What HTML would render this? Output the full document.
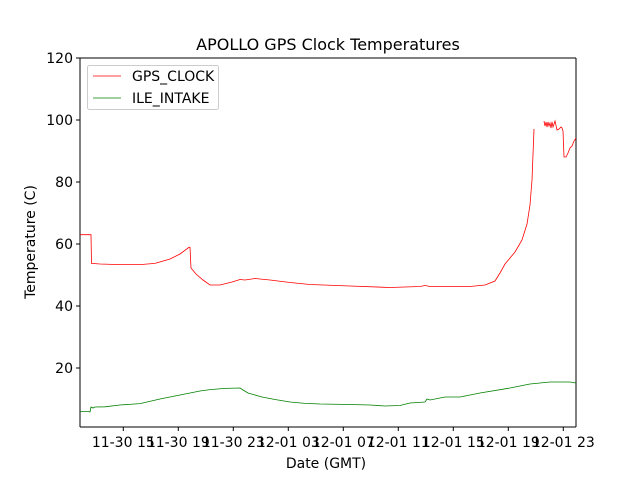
<!DOCTYPE html>
<html><head><meta charset="utf-8"><style>
body{margin:0;background:#fff}
svg text{font-family:"DejaVu Sans","Liberation Sans",sans-serif;fill:#000}
</style></head><body>
<svg width="640" height="480" viewBox="0 0 640 480" xmlns="http://www.w3.org/2000/svg">
<rect width="640" height="480" fill="#fff"/>
<text x="328" y="50" font-size="16" text-anchor="middle">APOLLO GPS Clock Temperatures</text>
<g stroke="#000" stroke-width="1">
<line x1="80" y1="58" x2="80" y2="427"/>
<line x1="576" y1="58" x2="576" y2="427"/>
<line x1="80" y1="58" x2="576" y2="58"/>
<line x1="80" y1="427" x2="576" y2="427"/>
<line x1="76" y1="58" x2="80" y2="58"/>
<line x1="76" y1="120" x2="80" y2="120"/>
<line x1="76" y1="182" x2="80" y2="182"/>
<line x1="76" y1="244" x2="80" y2="244"/>
<line x1="76" y1="306" x2="80" y2="306"/>
<line x1="76" y1="368" x2="80" y2="368"/>
<line x1="123.3" y1="427" x2="123.3" y2="431"/>
<line x1="178.3" y1="427" x2="178.3" y2="431"/>
<line x1="233.3" y1="427" x2="233.3" y2="431"/>
<line x1="288.3" y1="427" x2="288.3" y2="431"/>
<line x1="343.3" y1="427" x2="343.3" y2="431"/>
<line x1="398.3" y1="427" x2="398.3" y2="431"/>
<line x1="453.3" y1="427" x2="453.3" y2="431"/>
<line x1="508.3" y1="427" x2="508.3" y2="431"/>
<line x1="563.3" y1="427" x2="563.3" y2="431"/>
</g>
<g font-size="14" text-anchor="end">
<text x="73" y="63">120</text><text x="73" y="125">100</text><text x="73" y="187">80</text>
<text x="73" y="249">60</text><text x="73" y="311">40</text><text x="73" y="373">20</text>
</g>
<g font-size="14" text-anchor="middle">
<text x="123.3" y="447">11-30 15</text><text x="178.3" y="447">11-30 19</text>
<text x="233.3" y="447">11-30 23</text><text x="288.3" y="447">12-01 03</text>
<text x="343.3" y="447">12-01 07</text><text x="398.3" y="447">12-01 11</text>
<text x="453.3" y="447">12-01 15</text><text x="508.3" y="447">12-01 19</text>
<text x="563.3" y="447">12-01 23</text>
</g>
<text x="326" y="468" font-size="14" text-anchor="middle">Date (GMT)</text>
<text transform="translate(35,242) rotate(-90)" font-size="14" text-anchor="middle">Temperature (C)</text>
<polyline fill="none" stroke="#f00" stroke-width="0.8" points="80,234.7 91,234.7 91.5,263.4 100,264 120,264.6 140,264.6 155,263.4 170,259 180,254 189,247.3 190,247.3 191,268 196,274 203,280 210,285 220,285 232,282 240,279.5 245,280 255,278.5 270,280 290,282.5 310,284.5 350,286 390,287.5 420,286.5 425,285.5 430,286.5 470,286.5 485,285 495,281 500,273 505,264 515,252 522,240 527,224 530,205 532,180 534,129"/>
<polyline fill="none" stroke="#f00" stroke-width="0.8" points="544,121 545,126 546,122 547,127 548,122 549,126 550,123 551,128 552,122 553,127 554,124 555,121 557,130 559,129 561,127 562,128 563,131 564,157 566,157 568,153 570,148 572,146 574,141 576,138"/>
<polyline fill="none" stroke="#008000" stroke-width="0.8" points="80,411.4 88,411.4 90,412 91,407 93,408 95,407 105,406.8 120,405 140,403.6 160,399 180,395 200,391 210,389.6 225,388.4 240,388 243,390 248,393 255,395 262,397 275,399.5 290,402 305,403.4 320,404 350,404.5 370,405 385,406 400,405.5 410,403 425,402 427,399 430,400 445,397 460,397 480,393 510,388 530,384 550,382 570,382 576,383"/>
<rect x="87.5" y="65.5" width="131" height="44" rx="2" fill="#fff" fill-opacity="0.8" stroke="#ccc" stroke-width="1"/>
<line x1="93" y1="76" x2="121" y2="76" stroke="#f00" stroke-width="0.8"/>
<line x1="93" y1="98" x2="121" y2="98" stroke="#008000" stroke-width="0.8"/>
<text x="132" y="81" font-size="14">GPS_CLOCK</text>
<text x="132" y="103" font-size="14">ILE_INTAKE</text>
</svg>
</body></html>
